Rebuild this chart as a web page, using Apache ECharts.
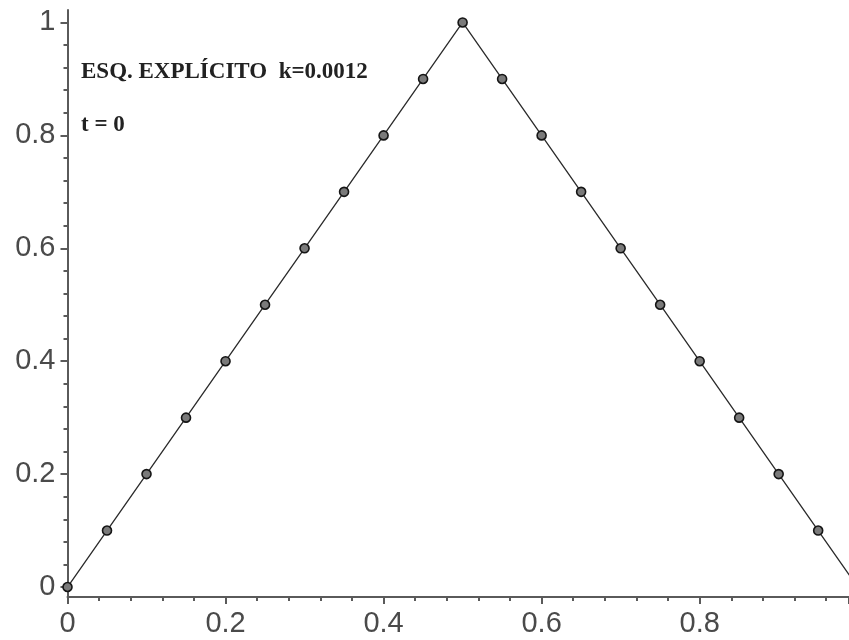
<!DOCTYPE html>
<html>
<head>
<meta charset="utf-8">
<script src="https://cdn.jsdelivr.net/npm/echarts@6/dist/echarts.min.js"></script>
<style>
  html, body { margin: 0; padding: 0; background: #fff; }
  #chart { width: 849px; height: 640px; }
</style>
</head>
<body>
<div id="chart"></div>
<script>
// Explicit scheme, initial state: mesh nodes and u(x, 0)
const xNodes = [0, 0.05, 0.1, 0.15, 0.2, 0.25, 0.3, 0.35, 0.4, 0.45, 0.5,
                0.55, 0.6, 0.65, 0.7, 0.75, 0.8, 0.85, 0.9, 0.95, 1];
const uValues = [0, 0.1, 0.2, 0.3, 0.4, 0.5, 0.6, 0.7, 0.8, 0.9, 1,
                 0.9, 0.8, 0.7, 0.6, 0.5, 0.4, 0.3, 0.2, 0.1, 0];
const yMajorTicks = [0, 0.2, 0.4, 0.6, 0.8, 1];
const yMinorTicks = [0.04, 0.08, 0.12, 0.16, 0.24, 0.28, 0.32, 0.36, 0.44, 0.48, 0.52, 0.56,
                     0.64, 0.68, 0.72, 0.76, 0.84, 0.88, 0.92, 0.96];
const schemeLabel = 'ESQ. EXPLÍCITO  k=0.0012';
const timeLabel = 't = 0';

const axisGray = '#5a5a5a';
const labelFont = {
  color: '#4a4a4a',
  fontFamily: '"Liberation Sans", Arial, sans-serif',
  fontSize: 29
};
// visible window of the plot
const xMin = 0, xMax = 0.989;
const yMin = -0.0177, yMax = 1.0221;

const chart = echarts.init(document.getElementById('chart'), null, { renderer: 'canvas' });

chart.setOption({
  animation: false,
  backgroundColor: '#fff',
  grid: { left: 67.5, top: 10, right: 0, bottom: 43, containLabel: false },
  xAxis: {
    type: 'value', min: xMin, max: xMax, interval: 0.2,
    axisLine: { onZero: false, lineStyle: { color: axisGray, width: 2 } },
    axisTick: { show: true, length: 7, lineStyle: { color: axisGray, width: 2 } },
    minorTick: { show: true, splitNumber: 5, length: 4, lineStyle: { color: axisGray, width: 2 } },
    splitLine: { show: false },
    axisLabel: Object.assign({ margin: 12, showMaxLabel: false }, labelFont)
  },
  yAxis: [
    {
      type: 'value', min: yMin, max: yMax,
      axisLine: { show: true, onZero: false, lineStyle: { color: axisGray, width: 2 } },
      axisTick: { show: true, length: 7, customValues: yMajorTicks, lineStyle: { color: axisGray, width: 2 } },
      axisLabel: Object.assign({ margin: 12, customValues: yMajorTicks,
        formatter: v => String(Math.round(v * 10) / 10) }, labelFont),
      splitLine: { show: false }
    },
    {
      type: 'value', min: yMin, max: yMax, position: 'left',
      axisLine: { show: false },
      axisTick: { show: true, length: 4, customValues: yMinorTicks, lineStyle: { color: axisGray, width: 2 } },
      axisLabel: { show: false },
      splitLine: { show: false }
    }
  ],
  graphic: [
    {
      type: 'text', x: 81, y: 72,
      style: {
        text: schemeLabel,
        fill: '#222',
        verticalAlign: 'middle',
        font: 'bold 23px "Liberation Serif", "DejaVu Serif", serif'
      }
    },
    {
      type: 'text', x: 81, y: 125,
      style: {
        text: timeLabel,
        fill: '#222',
        verticalAlign: 'middle',
        font: 'bold 23px "Liberation Serif", "DejaVu Serif", serif'
      }
    }
  ],
  series: [{
    type: 'line',
    yAxisIndex: 0,
    data: xNodes.map((x, i) => [x, uValues[i]]),
    symbol: 'circle',
    symbolSize: 9,
    showSymbol: true,
    clip: false,
    lineStyle: { color: '#2a2a2a', width: 1.3 },
    itemStyle: { color: '#7a7a7a', borderColor: '#151515', borderWidth: 1.6 }
  }]
});
</script>
</body>
</html>
